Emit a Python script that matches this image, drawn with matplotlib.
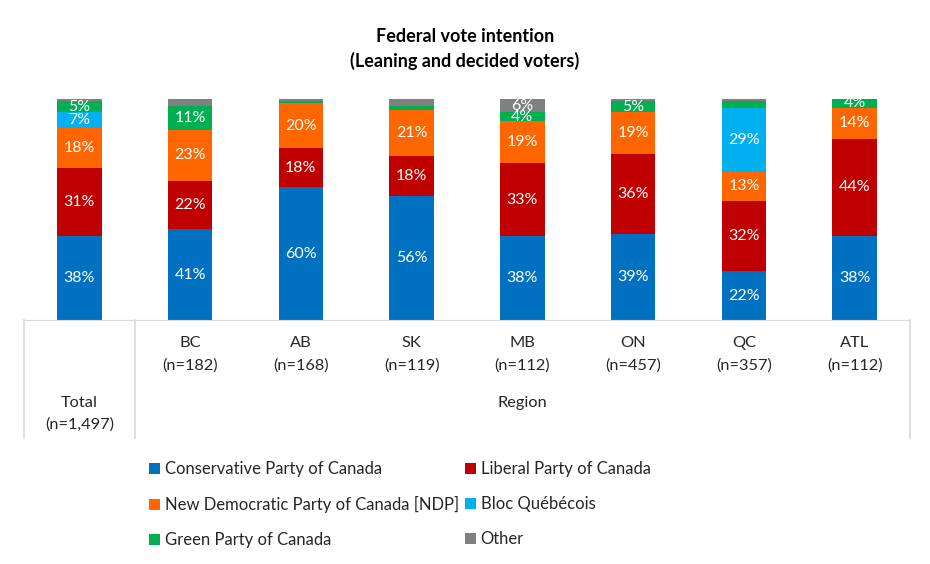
import matplotlib.pyplot as plt
import numpy as np
from matplotlib.patches import Patch

plt.rcParams['font.family'] = ['Lato', 'DejaVu Sans']

categories = ['Total', 'BC', 'AB', 'SK', 'MB', 'ON', 'QC', 'ATL']
sample_sizes = ['1,497', '182', '168', '119', '112', '457', '357', '112']

parties = ['Conservative Party of Canada', 'Liberal Party of Canada',
           'New Democratic Party of Canada [NDP]', 'Bloc Québécois',
           'Green Party of Canada', 'Other']
colors = ['#0070C0', '#C00000', '#FF6600', '#00B0F0', '#00B050', '#808080']

conservative = [38, 41, 60, 56, 38, 39, 22, 38]
liberal = [31, 22, 18, 18, 33, 36, 32, 44]
ndp = [18, 23, 20, 21, 19, 19, 13, 14]
bloc = [7, 0, 0, 0, 0, 0, 29, 0]
green = [5, 11, 1, 2, 4, 5, 3, 4]
other = [1, 3, 1, 3, 6, 1, 1, 0]

series = [conservative, liberal, ndp, bloc, green, other]

W, H = 930, 564
fig = plt.figure(figsize=(W / 100, H / 100), dpi=100)
ax = fig.add_axes([24 / W, 1 - 320 / H, (910 - 24) / W, (320 - 99) / H])

x = np.arange(len(categories))
bottom = np.zeros(len(categories))
handles = []
for vals, name, c in zip(series, parties, colors):
    vals = np.array(vals, dtype=float)
    ax.bar(x, vals, bottom=bottom, width=0.4, color=c, linewidth=0)
    for xi, v, b in zip(x, vals, bottom):
        if v >= 4:
            ax.text(xi, b + v / 2, f'{int(v)}%', ha='center', va='center',
                    color='white', fontsize=11.5)
    bottom += vals
    handles.append(Patch(facecolor=c, label=name))

ax.set_xlim(-0.5, len(categories) - 0.5)
ax.set_ylim(0, 100)
for s in ['top', 'left', 'right']:
    ax.spines[s].set_visible(False)
ax.spines['bottom'].set_color('#D9D9D9')
ax.set_xticks([])
ax.set_yticks([])

# category box lines below axis
depth = -(438 - 320) / (320 - 99)
for xv in [-0.5, 0.5, len(categories) - 0.5]:
    ax.plot([xv, xv], [0, depth * 100], color='#D9D9D9', lw=1.2, clip_on=False)

for xi, cat, n in zip(x[1:], categories[1:], sample_sizes[1:]):
    ax.text(xi, -(343 - 320) / 2.21, cat, ha='center', va='center', fontsize=11.8, color='#262626')
    ax.text(xi, -(366 - 320) / 2.21, f'(n={n})', ha='center', va='center', fontsize=11.8, color='#262626')
ax.text(0, -(403 - 320) / 2.21, 'Total', ha='center', va='center', fontsize=11.8, color='#262626')
ax.text(0, -(425 - 320) / 2.21, f'(n={sample_sizes[0]})', ha='center', va='center', fontsize=11.8, color='#262626')
ax.text(4, -(403 - 320) / 2.21, 'Region', ha='center', va='center', fontsize=11.8, color='#262626')

fig.text(0.5, 1 - 37 / H, 'Federal vote intention', ha='center', va='center',
         fontsize=13, fontweight='bold')
fig.text(0.5, 1 - 61 / H, '(Leaning and decided voters)', ha='center', va='center',
         fontsize=13, fontweight='bold')

order = [0, 2, 4, 1, 3, 5]
fig.legend([handles[i] for i in order], [parties[i] for i in order],
           ncol=2, loc='upper left', bbox_to_anchor=(134 / W, 1 - 446 / H),
           frameon=False, fontsize=12, handlelength=0.65, handleheight=0.65,
           handletextpad=0.3, columnspacing=0.35, labelspacing=1.15,
           labelcolor='#262626')

fig.savefig('out.png', dpi=100)
